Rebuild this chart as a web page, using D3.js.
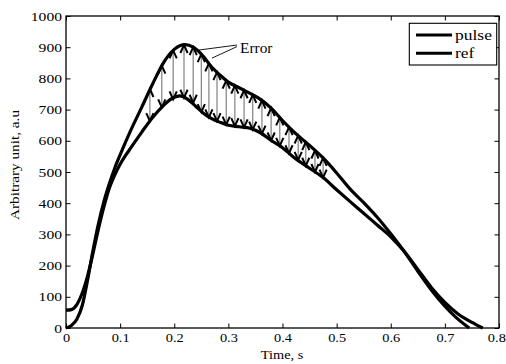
<!DOCTYPE html>
<html><head><meta charset="utf-8">
<script src="https://cdn.jsdelivr.net/npm/d3@7"></script>
<style>
html,body{margin:0;padding:0;background:#fff;}
svg text{font-family:"Liberation Serif","Times New Roman",serif;fill:#000;}
</style>
</head><body>
<svg id="c" width="506" height="364"></svg>
<script>
const xTicks = [0,0.1,0.2,0.3,0.4,0.5,0.6,0.7,0.8];
const xTickLabels = ["0","0.1","0.2","0.3","0.4","0.5","0.6","0.7","0.8"];
const yTicks = [0,100,200,300,400,500,600,700,800,900,1000];
const yTickLabels = ["0","100","200","300","400","500","600","700","800","900","1000"];

const pulseT = [0,0.01,0.02,0.03,0.04,0.05,0.06,0.07,0.08,0.09,0.1,0.12,0.14,0.16,0.18,0.2,0.22,0.235,0.25,0.27,0.285,0.3,0.32,0.34,0.36,0.38,0.4,0.42,0.45,0.475,0.5,0.525,0.55,0.575,0.6,0.625,0.65,0.675,0.7,0.72,0.745];
const pulseV = [0,8,28,72,155,250,335,405,462,512,555,635,708,782,850,893,908,900,878,835,810,788,770,752,732,703,665,630,585,545,497,445,402,355,302,245,182,122,70,35,0];

const refT = [0,0.01,0.02,0.03,0.04,0.05,0.06,0.07,0.08,0.09,0.1,0.11,0.12,0.14,0.16,0.18,0.195,0.21,0.225,0.24,0.255,0.27,0.285,0.3,0.32,0.34,0.36,0.38,0.4,0.42,0.45,0.475,0.5,0.525,0.55,0.575,0.6,0.625,0.65,0.675,0.7,0.725,0.75,0.77];
const refV = [57,59,75,112,168,240,318,388,448,490,525,553,578,628,675,713,735,744,733,710,687,670,659,650,645,640,625,600,578,548,512,482,443,405,368,330,292,245,188,130,82,44,18,0];

const arrowT = [0.155,0.177,0.198,0.218,0.235,0.25,0.264,0.279,0.296,0.312,0.329,0.345,0.362,0.379,0.395,0.412,0.429,0.443,0.46,0.475];
const arrowTop = [766,841,890,907,900,878,848,820,793,777,762,747,729,705,675,644,617,596,569,545];
const arrowBottom = [663,707,733,738,722,692,675,663,652,647,643,636,623,601,584,560,539,520,500,482];

const seriesNames = ["pulse","ref"];
const errorLabel = "Error";
const errorLabelPos = [0.3215, 882];
const errorLeaderFrom = [[0.316,907],[0.316,902]];
const errorLeaderTo = [[0.2457,891],[0.2697,865]];

const svg = d3.select("#c");
svg.append("rect").attr("width",506).attr("height",364).attr("fill","#fff");

const x = d3.scaleLinear().domain([0,0.8]).range([66,499]);
const y = d3.scaleLinear().domain([0,1000]).range([328,16]);

// axes
const gB = svg.append("g").attr("transform","translate(0,328)")
  .call(d3.axisBottom(x).tickValues(xTicks).tickSize(-4.5).tickPadding(5)
    .tickFormat((d,i)=>xTickLabels[i]));
gB.selectAll("text").attr("font-size","12.5px").attr("transform","scale(1.15,1)");
gB.selectAll(".tick").filter(d=>d===0.8).select("text")
  .attr("text-anchor","end").attr("x",5.5);
const gL = svg.append("g").attr("transform","translate(66,0)")
  .call(d3.axisLeft(y).tickValues(yTicks).tickSize(-4.5).tickPadding(3.2)
    .tickFormat((d,i)=>yTickLabels[i]));
gL.selectAll("text").attr("font-size","12.5px").attr("transform","scale(1.25,1)");
const gT = svg.append("g").attr("transform","translate(0,16)")
  .call(d3.axisTop(x).tickValues(xTicks).tickSize(-4.5).tickFormat(""));
const gR = svg.append("g").attr("transform","translate(499,0)")
  .call(d3.axisRight(y).tickValues(yTicks).tickSize(-4.5).tickFormat(""));
[gB,gL,gT,gR].forEach(g=>{
  g.select(".domain").remove();
  g.selectAll("line").attr("stroke","#000").attr("stroke-width",1);
});
svg.append("rect").attr("x",66).attr("y",16).attr("width",433).attr("height",312)
  .attr("fill","none").attr("stroke","#000").attr("stroke-width",1.3);

// arrows
const ga = svg.append("g");
arrowT.forEach((t,i)=>{
  const xx = x(t), yt = y(arrowTop[i]), yb = y(arrowBottom[i]);
  ga.append("line").attr("x1",xx).attr("x2",xx).attr("y1",yt).attr("y2",yb)
    .attr("stroke","#808080").attr("stroke-width",1.2);
  ga.append("polyline").attr("points",`${xx-3.6},${yt+8} ${xx},${yt} ${xx+3.6},${yt+8}`)
    .attr("fill","none").attr("stroke","#000").attr("stroke-width",2);
  ga.append("polyline").attr("points",`${xx-3.6},${yb-8} ${xx},${yb} ${xx+3.6},${yb-8}`)
    .attr("fill","none").attr("stroke","#000").attr("stroke-width",2);
});

// curves
const line = d3.line().x(d=>x(d[0])).y(d=>y(d[1])).curve(d3.curveMonotoneX);
svg.append("path").datum(pulseT.map((t,i)=>[t,pulseV[i]])).attr("d",line)
  .attr("fill","none").attr("stroke","#000").attr("stroke-width",3.2).attr("stroke-linejoin","round");
svg.append("path").datum(refT.map((t,i)=>[t,refV[i]])).attr("d",line)
  .attr("fill","none").attr("stroke","#000").attr("stroke-width",3.2).attr("stroke-linejoin","round");

// error annotation
errorLeaderFrom.forEach((f,i)=>{
  svg.append("line").attr("x1",x(f[0])).attr("y1",y(f[1]))
    .attr("x2",x(errorLeaderTo[i][0])).attr("y2",y(errorLeaderTo[i][1]))
    .attr("stroke","#000").attr("stroke-width",0.9);
});
svg.append("text").attr("transform",`translate(${x(errorLabelPos[0])},${y(errorLabelPos[1])}) scale(1.1,1)`)
  .attr("font-size","14px").text(errorLabel);

// axis labels
svg.append("text").attr("transform","translate(282,359) scale(1.06,1)")
  .attr("text-anchor","middle").attr("font-size","13.5px").text("Time, s");
svg.append("text").attr("transform","translate(18.7,165) rotate(-90) scale(1.13,1)")
  .attr("text-anchor","middle").attr("font-size","13.5px").text("Arbitrary unit, a.u");

// legend
const lg = svg.append("g");
lg.append("rect").attr("x",409.3).attr("y",23.3).attr("width",87.4).attr("height",41.7)
  .attr("fill","#fff").attr("stroke","#000").attr("stroke-width",1.1);
seriesNames.forEach((n,i)=>{
  const yy = 35 + i*18.3;
  lg.append("line").attr("x1",416).attr("x2",452).attr("y1",yy).attr("y2",yy)
    .attr("stroke","#000").attr("stroke-width",3);
  lg.append("text").attr("transform",`translate(455,${yy+4.6}) scale(1.25,1)`)
    .attr("font-size","14px").text(n);
});
</script>
</body></html>
